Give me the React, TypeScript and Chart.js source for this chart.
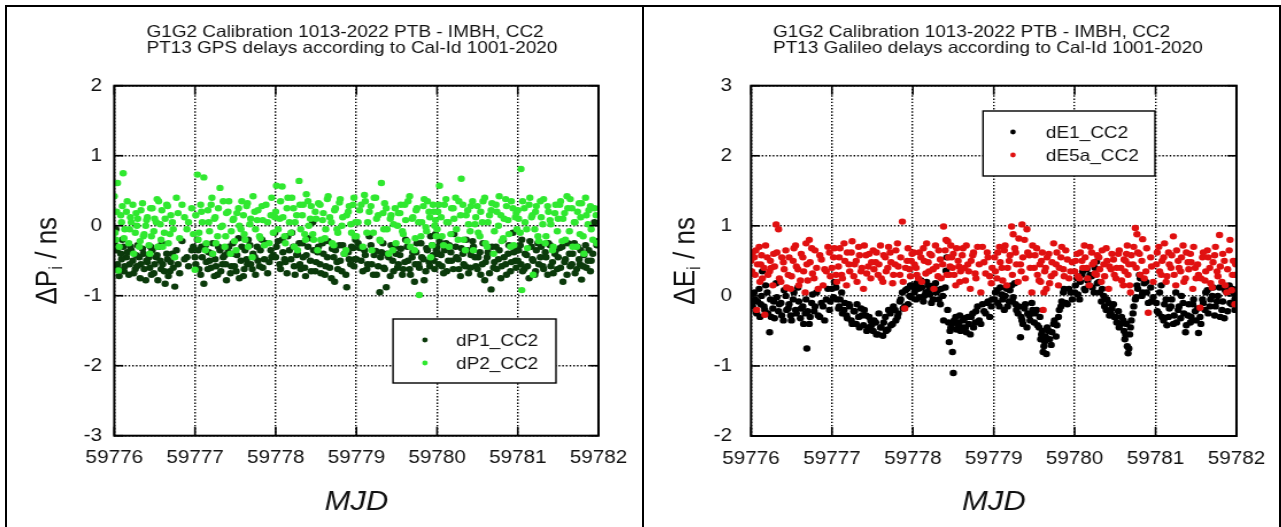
import React, { useEffect, useRef } from 'react';
import { Chart, registerables } from 'chart.js';

Chart.register(...registerables);

// ---------------- data ----------------
const MJD0 = 59776;
const mjdTicks = [59776, 59777, 59778, 59779, 59780, 59781, 59782];
const gpsYTicks = [-3, -2, -1, 0, 1, 2];
const galYTicks = [-2, -1, 0, 1, 2, 3];

const gpsTitle = ['G1G2 Calibration 1013-2022 PTB - IMBH, CC2', 'PT13 GPS delays according to Cal-Id 1001-2020'];
const galTitle = ['G1G2 Calibration 1013-2022 PTB - IMBH, CC2', 'PT13 Galileo delays according to Cal-Id 1001-2020'];
const gpsLabels = ['dP1_CC2', 'dP2_CC2'];
const galLabels = ['dE1_CC2', 'dE5a_CC2'];

// GPS epochs (days after MJD0)
const gpsT = [
  0.00,0.02,0.04,0.05,0.08,0.11,0.13,0.15,0.18,0.21,0.23,0.26,0.29,0.31,0.33,0.36,0.39,
  0.41,0.44,0.47,0.49,0.52,0.55,0.58,0.60,0.63,0.66,0.69,0.72,0.75,0.79,0.84,0.90,0.96,
  1.00,1.03,1.05,1.08,1.11,1.14,1.17,1.20,1.22,1.25,1.28,1.31,1.34,1.37,1.39,1.42,1.45,
  1.48,1.51,1.54,1.57,1.60,1.62,1.65,1.68,1.71,1.74,1.77,1.80,1.83,1.86,1.90,1.94,1.97,
  2.01,2.05,2.08,2.11,2.14,2.17,2.20,2.23,2.26,2.29,2.31,2.34,2.37,2.40,2.43,2.46,2.49,
  2.52,2.55,2.58,2.61,2.64,2.67,2.70,2.73,2.76,2.79,2.82,2.85,2.88,2.91,2.94,2.97,2.99,
  3.02,3.06,3.10,3.13,3.16,3.19,3.22,3.25,3.29,3.31,3.34,3.37,3.40,3.43,3.46,3.49,3.52,
  3.55,3.58,3.61,3.64,3.67,3.70,3.73,3.75,3.78,3.81,3.84,3.87,3.90,3.92,3.95,3.97,3.99,
  4.01,4.03,4.06,4.09,4.12,4.15,4.18,4.21,4.24,4.27,4.30,4.33,4.36,4.39,4.42,4.45,4.48,
  4.51,4.54,4.57,4.60,4.63,4.67,4.70,4.73,4.76,4.79,4.82,4.85,4.88,4.91,4.94,4.97,4.99,
  5.01,5.04,5.05,5.08,5.11,5.14,5.17,5.19,5.22,5.25,5.28,5.31,5.34,5.37,5.40,5.43,5.46,
  5.49,5.52,5.56,5.59,5.62,5.65,5.68,5.71,5.74,5.77,5.79,5.82,5.85,5.88,5.91,5.95,5.98,
  0.01,0.03,0.06,0.09,0.10,0.12,0.16,0.19,0.20,0.24,0.27,0.28,0.32,0.35,0.37,0.40,0.43,
  0.45,0.46,0.50,0.53,0.54,0.57,0.59,0.62,0.65,0.67,0.70,0.73,0.77,0.81,0.87,0.92,0.98,
  1.01,1.04,1.07,1.09,1.13,1.16,1.18,1.21,1.24,1.26,1.29,1.32,1.35,1.38,1.41,1.44,1.47,
  1.49,1.52,1.55,1.58,1.61,1.64,1.66,1.69,1.72,1.75,1.78,1.81,1.84,1.88,1.92,1.95,1.99,
  2.00,2.03,2.06,2.09,2.12,2.15,2.19,2.22,2.24,2.27,2.30,2.33,2.36,2.38,2.41,2.44,2.47,
  2.50,2.53,2.56,2.59,2.62,2.65,2.69,2.72,2.74,2.77,2.80,2.83,2.87,2.90,2.93,2.96,2.98,
  3.00,3.04,3.08,3.11,3.14,3.18,3.21,3.24,3.27,3.30,3.33,3.35,3.38,3.42,3.45,3.48,3.51,
  3.54,3.57,3.60,3.63,3.66,3.69,3.72,3.74,3.77,3.80,3.83,3.86,3.88,3.91,3.94,3.96,3.98,
  4.00,4.02,4.05,4.08,4.11,4.14,4.17,4.20,4.23,4.26,4.29,4.32,4.35,4.38,4.41,4.44,4.47,
  4.50,4.53,4.56,4.59,4.62,4.65,4.68,4.71,4.74,4.77,4.80,4.83,4.86,4.89,4.92,4.95,4.98,
  5.00,5.03,5.06,5.09,5.12,5.15,5.18,5.21,5.23,5.26,5.29,5.32,5.35,5.38,5.41,5.44,5.47,
  5.50,5.53,5.55,5.58,5.61,5.64,5.67,5.70,5.73,5.76,5.78,5.81,5.84,5.87,5.90,5.93,5.97,
];
const dP1 = [
  -0.25,-0.05,-0.55,-0.62,-0.40,-0.30,-0.58,-0.45,-0.70,-0.35,-0.50,-0.62,-0.28,-0.45,-0.55,-0.40,-0.78,
  -0.52,-0.60,-0.35,-0.68,-0.45,-0.30,-0.62,-0.55,-0.83,-0.48,-0.65,-0.40,-0.87,-0.55,-0.22,-0.45,-0.35,
  -0.45,-0.20,-0.62,-0.30,-0.83,-0.52,-0.38,-0.60,-0.25,-0.48,-0.70,-0.35,-0.55,-0.42,-0.78,-0.30,-0.58,
  -0.40,-0.65,-0.18,-0.50,-0.72,-0.35,-0.55,-0.28,-0.62,-0.45,-0.30,-0.58,-0.20,-0.48,-0.68,-0.35,-0.42,
  -0.30,-0.55,-0.20,-0.48,-0.68,-0.35,-0.10,-0.58,-0.42,-0.25,-0.62,-0.45,-0.72,-0.30,-0.50,0.05,-0.65,
  -0.38,-0.55,-0.25,-0.70,-0.45,-0.60,-0.33,-0.80,-0.52,-0.28,-0.65,-0.40,-0.88,-0.48,-0.30,-0.58,-0.20,
  -0.25,-0.50,-0.35,-0.62,-0.15,-0.55,-0.42,-0.70,-0.95,-0.38,-0.60,-0.88,-0.45,-0.28,-0.65,-0.40,-0.55,
  -0.33,-0.62,-0.20,-0.50,-0.70,-0.38,-0.55,-0.25,-0.60,-0.45,-0.78,-0.32,-0.52,-0.15,-0.42,-0.62,-0.35,
  -0.40,-0.22,-0.58,-0.35,-0.65,-0.28,-0.50,-0.12,-0.45,-0.62,-0.32,-0.55,-0.20,-0.68,-0.42,-0.30,-0.58,
  -0.45,-0.70,-0.25,-0.52,-0.38,-0.91,-0.60,-0.30,-0.48,-0.75,-0.20,-0.55,-0.40,-0.65,-0.10,-0.50,-0.35,
  -0.35,-0.55,-0.20,-0.62,-0.42,-0.75,-0.30,-0.50,-0.65,-0.25,-0.45,-0.58,-0.38,-0.70,-0.28,-0.52,-0.40,
  -0.62,-0.32,-0.80,-0.48,-0.25,-0.58,-0.40,-0.68,-0.30,-0.55,-0.77,-0.42,-0.60,-0.35,-0.50,0.05,-0.28,
  -0.60,-0.35,-0.72,-0.48,-0.20,-0.65,-0.38,-0.55,-0.30,-0.68,-0.42,-0.58,-0.75,-0.33,-0.62,-0.50,-0.45,
  -0.30,-0.70,-0.55,-0.42,-0.78,-0.50,-0.25,-0.65,-0.40,-0.72,-0.52,-0.60,-0.35,-0.68,-0.48,-0.58,-0.30,
  -0.55,-0.35,-0.70,-0.45,-0.28,-0.62,-0.50,-0.40,-0.72,-0.58,-0.30,-0.65,-0.45,-0.55,-0.38,-0.68,-0.25,
  -0.58,-0.42,-0.75,-0.30,-0.62,-0.48,-0.20,-0.55,-0.40,-0.70,-0.50,-0.35,-0.60,-0.25,-0.52,-0.45,-0.10,
  -0.45,-0.22,-0.62,-0.38,-0.52,-0.15,-0.48,-0.30,-0.70,-0.40,-0.55,-0.25,-0.60,-0.42,-0.18,-0.65,-0.35,
  -0.52,-0.30,-0.68,-0.40,-0.58,-0.22,-0.75,-0.45,-0.35,-0.62,-0.50,-0.28,-0.70,-0.38,-0.55,-0.32,-0.48,
  -0.48,-0.32,-0.65,-0.42,-0.55,-0.28,-0.70,-0.36,-0.58,-0.45,-0.25,-0.62,-0.40,-0.72,-0.50,-0.30,-0.60,
  -0.42,-0.70,-0.52,-0.30,-0.62,-0.45,-0.80,-0.38,-0.55,-0.25,-0.48,-0.65,-0.35,-0.58,-0.28,-0.50,-0.12,
  -0.30,-0.55,-0.42,-0.68,-0.25,-0.50,-0.38,-0.62,-0.30,-0.48,-0.72,-0.40,-0.58,-0.35,-0.60,-0.22,-0.45,
  -0.62,-0.38,-0.55,-0.78,-0.45,-0.68,-0.30,-0.52,-0.62,-0.35,-0.58,-0.45,-0.70,-0.28,-0.52,-0.38,-0.60,
  -0.50,-0.28,-0.65,-0.40,-0.58,-0.22,-0.48,-0.70,-0.35,-0.55,-0.30,-0.62,-0.45,-0.25,-0.58,-0.68,-0.35,
  -0.45,-0.60,-0.30,-0.52,-0.70,-0.40,-0.55,-0.25,-0.62,-0.48,-0.35,-0.58,-0.28,-0.50,-0.65,-0.40,-0.22,
];
const dP2 = [
  0.42,-0.20,0.61,-0.64,0.15,0.75,-0.05,0.20,-0.25,0.05,0.30,-0.10,0.10,-0.30,0.22,-0.15,0.00,
  0.12,-0.40,0.25,-0.08,0.05,0.35,-0.20,-0.30,0.10,0.28,-0.12,0.05,-0.45,0.18,0.30,-0.05,0.25,
  -0.63,0.73,-0.10,0.20,0.69,-0.25,0.05,0.30,-0.40,0.12,-0.15,0.54,0.00,-0.30,0.18,0.35,-0.08,
  0.10,-0.35,0.25,-0.05,0.15,-0.20,0.32,0.02,-0.45,0.20,0.08,-0.15,0.28,-0.28,0.05,0.15,-0.10,
  0.57,0.10,0.56,-0.15,0.25,0.05,0.40,-0.30,0.15,0.64,-0.05,0.30,-0.20,0.35,0.10,-0.12,0.20,
  -0.35,0.30,0.08,-0.18,0.38,0.12,-0.25,0.22,-0.05,0.33,0.00,-0.40,0.15,0.28,-0.10,0.40,0.05,
  0.05,0.30,0.44,-0.10,0.20,-0.35,0.40,0.10,-0.20,0.61,-0.05,0.25,-0.40,0.15,0.02,-0.25,0.18,
  0.30,-0.12,0.08,0.35,-0.30,0.12,-0.18,0.25,-0.99,0.05,0.38,-0.08,0.20,-0.45,0.30,0.00,-0.15,
  0.20,0.57,-0.15,0.30,0.05,-0.30,0.25,0.10,-0.05,0.35,0.67,-0.20,0.15,0.02,0.28,-0.35,0.12,
  -0.10,0.20,0.35,-0.25,0.05,0.22,-0.40,0.30,0.00,0.15,-0.18,0.38,0.08,-0.30,0.25,0.12,-0.05,
  0.10,0.81,-0.92,0.25,-0.05,0.30,0.12,-0.70,0.20,-0.15,0.35,0.02,-0.25,0.28,0.08,-0.35,0.18,
  -0.08,0.30,0.10,-0.20,0.25,0.38,-0.30,0.05,0.20,-0.12,0.32,-0.40,0.15,0.22,-0.05,0.25,-0.25,
  -0.10,0.20,-0.30,0.05,0.28,-0.18,0.35,-0.05,0.12,-0.40,0.18,0.00,-0.22,0.32,-0.12,0.08,-0.28,
  0.25,-0.15,0.10,0.38,-0.30,0.02,0.22,-0.10,0.30,-0.25,0.15,-0.05,0.40,-0.18,0.12,0.05,-0.12,
  0.15,-0.20,0.30,0.05,-0.35,0.22,-0.08,0.40,0.10,-0.25,0.25,-0.02,0.35,-0.15,0.20,-0.40,0.08,
  -0.22,0.18,0.00,0.35,-0.12,0.28,-0.30,0.10,0.42,-0.05,0.22,-0.18,0.08,0.30,-0.25,0.40,0.12,
  0.20,-0.05,0.35,0.12,-0.25,0.40,-0.10,0.25,0.05,-0.35,0.30,0.15,-0.12,0.45,0.00,0.28,-0.20,
  0.10,0.32,-0.20,0.18,-0.05,0.42,0.05,-0.28,0.25,-0.10,0.38,0.12,-0.35,0.20,0.02,0.30,-0.15,
  -0.15,0.22,-0.30,0.35,0.05,0.28,-0.10,0.40,0.15,-0.22,0.18,0.32,-0.05,0.10,-0.35,0.25,0.00,
  0.18,-0.08,0.30,-0.22,0.42,0.10,-0.35,0.22,0.05,-0.15,0.28,-0.02,0.35,0.12,-0.28,0.20,0.08,
  -0.05,0.30,0.12,-0.28,0.38,0.05,-0.12,0.25,0.40,-0.20,0.15,0.30,-0.35,0.22,-0.08,0.35,0.02,
  0.28,-0.15,0.05,0.40,-0.30,0.15,0.32,-0.08,0.20,0.42,-0.22,0.10,0.28,-0.12,0.35,-0.28,0.18,
  0.22,-0.10,0.35,0.05,-0.32,0.40,0.15,-0.05,0.28,-0.22,0.12,0.38,-0.15,0.20,0.02,-0.30,0.30,
  0.10,0.35,-0.22,0.18,0.42,-0.08,0.25,0.05,-0.30,0.32,0.12,-0.15,0.40,0.02,0.28,-0.20,0.15,
];

// Galileo epochs (days after MJD0)
const galT = [
  0.00,0.02,0.05,0.07,0.10,0.12,0.14,0.17,0.20,0.23,0.25,0.28,0.31,0.34,0.37,0.40,0.43,
  0.46,0.49,0.52,0.55,0.58,0.61,0.64,0.67,0.69,0.72,0.75,0.78,0.81,0.85,0.89,0.93,0.97,
  1.00,1.03,1.06,1.09,1.12,1.15,1.18,1.21,1.24,1.27,1.30,1.33,1.36,1.39,1.42,1.45,1.48,
  1.51,1.54,1.57,1.60,1.63,1.66,1.69,1.72,1.75,1.78,1.81,1.84,1.87,1.90,1.93,1.96,1.99,
  2.02,2.05,2.08,2.11,2.14,2.17,2.20,2.23,2.26,2.29,2.32,2.35,2.38,2.41,2.44,2.45,2.47,
  2.49,2.50,2.53,2.56,2.59,2.62,2.65,2.68,2.71,2.74,2.77,2.80,2.84,2.88,2.92,2.95,2.98,
  3.01,3.04,3.07,3.10,3.13,3.16,3.19,3.22,3.24,3.27,3.30,3.33,3.35,3.38,3.41,3.44,3.47,
  3.50,3.53,3.56,3.59,3.61,3.63,3.65,3.68,3.71,3.74,3.77,3.80,3.83,3.86,3.89,3.93,3.97,
  4.00,4.03,4.06,4.09,4.12,4.15,4.18,4.21,4.24,4.27,4.30,4.33,4.36,4.39,4.42,4.45,4.48,
  4.51,4.54,4.57,4.60,4.63,4.65,4.66,4.69,4.72,4.75,4.77,4.80,4.84,4.88,4.91,4.94,4.97,
  5.01,5.04,5.07,5.10,5.13,5.16,5.19,5.22,5.25,5.28,5.31,5.34,5.37,5.40,5.43,5.46,5.49,
  5.53,5.55,5.58,5.61,5.64,5.67,5.70,5.73,5.76,5.79,5.82,5.85,5.88,5.92,5.95,5.98,5.99,
  0.01,0.04,0.06,0.08,0.11,0.13,0.16,0.18,0.21,0.24,0.27,0.29,0.32,0.35,0.38,0.41,0.44,
  0.47,0.50,0.53,0.56,0.59,0.62,0.65,0.68,0.70,0.73,0.76,0.79,0.83,0.87,0.91,0.95,0.98,
  1.02,1.05,1.08,1.10,1.13,1.16,1.19,1.22,1.25,1.28,1.31,1.34,1.37,1.40,1.43,1.46,1.49,
  1.52,1.55,1.58,1.61,1.64,1.67,1.70,1.73,1.76,1.79,1.82,1.85,1.88,1.91,1.94,1.97,1.98,
  2.01,2.04,2.07,2.10,2.13,2.16,2.19,2.21,2.25,2.28,2.31,2.34,2.37,2.40,2.42,2.43,2.46,
  2.48,2.51,2.54,2.57,2.58,2.61,2.64,2.66,2.69,2.72,2.75,2.78,2.82,2.86,2.90,2.93,2.97,
  3.02,3.05,3.08,3.11,3.14,3.17,3.20,3.23,3.26,3.28,3.31,3.34,3.36,3.39,3.42,3.45,3.48,
  3.51,3.54,3.57,3.58,3.60,3.62,3.64,3.66,3.69,3.72,3.75,3.78,3.81,3.84,3.87,3.91,3.95,
  4.01,4.04,4.07,4.10,4.13,4.16,4.19,4.22,4.25,4.28,4.31,4.34,4.37,4.40,4.43,4.46,4.49,
  4.52,4.55,4.58,4.61,4.62,4.64,4.67,4.68,4.70,4.73,4.76,4.78,4.81,4.83,4.86,4.89,4.95,
  5.02,5.05,5.08,5.11,5.14,5.17,5.20,5.23,5.26,5.29,5.32,5.35,5.38,5.41,5.44,5.47,5.50,
  5.52,5.56,5.59,5.62,5.65,5.68,5.71,5.74,5.77,5.80,5.83,5.86,5.89,5.91,5.94,5.96,5.98,
];
const dE1 = [
  0.02,-0.15,-0.05,-0.25,0.10,-0.12,0.35,-0.20,0.05,-0.52,-0.30,-0.08,0.18,-0.22,-0.10,-0.35,0.00,
  -0.18,-0.28,-0.05,-0.20,0.12,-0.32,-0.15,-0.25,-0.75,-0.40,-0.10,-0.22,0.05,-0.30,-0.15,-0.05,-0.20,
  0.10,0.20,-0.05,-0.15,0.05,-0.20,-0.28,-0.12,-0.35,-0.22,-0.40,-0.30,-0.18,-0.42,-0.28,-0.45,-0.35,
  -0.50,-0.38,-0.55,-0.45,-0.57,-0.30,-0.48,-0.25,-0.40,-0.20,-0.30,-0.08,0.05,-0.15,0.10,0.00,0.15,
  0.05,0.18,-0.02,0.12,0.00,0.20,0.08,-0.10,0.15,0.05,-0.05,0.10,-0.35,0.36,-0.38,-0.66,-0.45,
  -0.80,-1.10,-0.30,-0.42,-0.50,-0.35,-0.45,-0.30,-0.55,-0.25,-0.38,-0.15,-0.40,-0.22,-0.10,-0.30,-0.05,
  -0.05,0.08,-0.15,0.02,-0.20,0.10,-0.08,0.15,-0.02,-0.12,-0.25,-0.59,-0.35,-0.18,-0.45,-0.28,-0.10,
  -0.38,-0.20,-0.45,-0.55,-0.80,-0.65,-0.83,-0.50,-0.70,-0.40,-0.58,-0.30,-0.15,0.05,-0.10,0.10,-0.05,
  0.05,0.25,-0.05,0.30,0.10,0.38,0.15,0.28,0.05,0.49,0.20,-0.08,0.00,-0.20,-0.10,-0.25,-0.12,
  -0.30,-0.22,-0.40,-0.35,-0.55,-0.72,-0.82,-0.45,-0.25,-0.05,0.15,0.30,0.05,0.20,-0.10,0.12,-0.02,
  -0.10,-0.25,0.15,-0.35,-0.05,-0.30,-0.15,-0.40,0.05,-0.20,-0.32,-0.10,-0.52,-0.28,-0.38,-0.12,-0.22,
  -0.53,-0.30,-0.05,-0.20,0.08,-0.15,0.00,-0.28,-0.08,0.12,-0.20,-0.32,0.05,-0.10,0.10,-0.05,0.02,
  -0.10,0.05,-0.22,-0.08,-0.30,0.00,-0.15,0.15,-0.25,-0.05,-0.18,-0.32,-0.02,-0.12,-0.28,0.08,-0.20,
  -0.12,-0.35,0.05,-0.25,-0.08,-0.18,-0.40,-0.05,-0.22,-0.30,0.02,-0.15,-0.28,-0.10,-0.35,0.10,-0.08,
  -0.02,0.12,-0.18,-0.05,-0.25,-0.10,-0.32,-0.15,-0.40,-0.22,-0.12,-0.45,-0.28,-0.20,-0.50,-0.30,-0.42,
  -0.35,-0.55,-0.25,-0.45,-0.38,-0.50,-0.20,-0.42,-0.15,-0.35,-0.25,-0.05,-0.18,0.08,-0.12,0.15,-0.02,
  0.12,-0.05,0.10,0.22,-0.08,0.05,0.15,0.02,-0.05,0.18,0.08,-0.12,0.00,0.12,0.55,-0.20,-0.50,
  -0.40,-0.35,-0.48,-0.38,-0.28,-0.45,-0.32,-0.52,-0.40,-0.30,-0.45,-0.22,-0.35,-0.12,-0.25,-0.08,-0.15,
  0.05,-0.10,0.12,-0.05,0.00,-0.15,0.08,-0.08,0.18,-0.20,-0.15,-0.30,-0.40,-0.12,-0.25,-0.35,-0.20,
  -0.25,-0.42,-0.30,-0.62,-0.50,-0.72,-0.58,-0.45,-0.62,-0.52,-0.35,-0.42,-0.20,-0.08,0.10,-0.12,0.05,
  0.15,0.02,0.20,0.35,0.08,0.22,0.30,0.12,0.40,0.18,0.05,0.10,-0.15,-0.05,-0.28,-0.18,-0.30,
  -0.38,-0.45,-0.30,-0.50,-0.62,-0.40,-0.75,-0.55,-0.35,-0.15,-0.02,0.10,0.25,0.00,0.18,0.05,-0.08,
  -0.22,0.05,-0.30,-0.12,-0.42,-0.18,-0.05,-0.28,-0.38,-0.15,0.00,-0.25,-0.42,-0.12,-0.30,-0.05,-0.35,
  -0.18,-0.40,-0.10,0.05,-0.25,-0.05,0.12,-0.15,0.00,-0.30,-0.08,0.08,-0.22,0.15,-0.12,0.05,-0.20,
];
const dE5a = [
  0.50,0.62,0.30,-0.20,0.70,0.45,0.25,-0.27,0.55,0.35,0.40,0.60,1.02,0.95,0.20,0.48,0.65,
  0.30,0.10,0.50,0.72,0.38,0.22,0.55,0.05,0.45,0.80,0.68,0.25,0.40,0.58,0.15,0.35,0.62,
  0.40,0.68,0.20,0.55,0.30,0.75,0.15,0.45,0.62,0.28,0.50,0.70,0.35,0.10,0.58,0.42,0.25,
  0.65,0.48,0.30,0.72,0.20,0.55,0.40,0.62,0.18,0.45,0.75,0.30,1.06,-0.18,0.50,0.38,0.60,
  0.45,0.30,0.62,0.20,0.50,0.75,0.35,0.58,0.10,0.42,0.65,0.25,0.99,0.80,0.55,0.30,0.72,
  0.40,0.60,0.15,0.50,0.35,0.68,0.22,0.45,0.10,0.58,0.32,0.70,0.05,0.48,0.62,0.28,0.40,
  0.55,0.25,0.70,0.40,0.65,0.15,0.50,0.99,0.88,0.62,0.20,0.45,1.02,0.80,0.95,0.58,0.05,
  0.40,0.68,0.22,0.50,-0.20,0.35,0.10,0.60,0.28,0.75,0.45,0.15,0.55,0.38,0.65,0.25,0.48,
  0.35,0.60,0.25,0.50,0.72,0.40,0.15,0.62,0.48,0.30,0.55,0.20,0.45,0.68,0.10,0.38,0.52,
  0.25,0.60,0.40,0.15,0.50,0.72,0.30,0.05,0.45,0.97,0.88,0.60,0.81,0.35,-0.24,0.55,0.20,
  0.45,0.70,0.30,0.55,0.20,0.62,0.40,0.85,0.15,0.50,0.35,0.72,0.25,0.48,0.60,0.10,0.40,
  0.30,-0.17,0.55,0.22,0.65,0.40,0.12,0.58,0.35,0.87,0.20,0.50,0.05,0.80,0.30,-0.12,0.45,
  0.35,0.55,0.65,0.45,0.20,0.58,0.40,0.72,0.30,0.50,0.15,0.42,0.62,0.25,0.55,0.38,0.12,
  0.55,0.28,0.68,0.42,0.15,0.60,0.35,0.75,0.22,0.48,0.32,0.65,0.10,0.52,0.38,0.70,0.28,
  0.55,0.30,0.42,0.68,0.25,0.50,0.62,0.35,0.78,0.45,0.20,0.58,0.40,0.72,0.32,0.60,0.48,
  0.38,0.62,0.45,0.25,0.58,0.35,0.70,0.48,0.30,0.65,0.42,0.55,0.20,0.40,0.68,0.28,0.50,
  0.62,0.40,0.25,0.55,0.68,0.32,0.48,0.60,0.38,0.72,0.28,0.52,0.45,0.65,0.30,0.78,0.42,
  0.55,0.30,0.68,0.42,0.20,0.58,0.40,0.72,0.35,0.50,0.62,0.25,0.45,0.70,0.32,0.55,0.18,
  0.35,0.62,0.48,0.22,0.72,0.40,0.58,0.30,0.68,0.45,0.82,0.35,0.55,0.25,0.62,0.40,0.72,
  0.58,0.30,0.45,0.20,0.62,0.05,0.40,0.55,0.18,0.48,0.32,0.62,0.40,0.70,0.28,0.52,0.35,
  0.50,0.28,0.62,0.40,0.55,0.25,0.70,0.45,0.32,0.58,0.38,0.65,0.28,0.50,0.42,0.60,0.30,
  0.40,0.65,0.22,0.52,0.35,0.60,0.45,0.15,0.58,0.70,0.40,0.62,0.30,0.50,0.25,0.68,0.42,
  0.62,0.35,0.50,0.75,0.28,0.45,0.58,0.30,0.65,0.40,0.55,0.20,0.62,0.38,0.48,0.70,0.25,
  0.45,0.25,0.62,0.35,0.55,0.18,0.48,0.70,0.28,0.42,0.60,0.15,0.38,0.65,0.08,0.50,0.30,
];

// ---------------- layout / style ----------------
const FONT = "'Liberation Sans', Arial, Helvetica, sans-serif";
const CW = 552; // internal canvas width
const CH = 519; // canvas height
const DW = 634; // displayed width (horizontal stretch like the reference)
const S = DW / CW;
const YW = 70;
const XH = 60;

type Series = { label: string; color: string; t: number[]; y: number[]; order: number };
type PanelCfg = {
  left: number;
  title: string[];
  titleX: number;
  yMain: string;
  ySub: string;
  yMin: number;
  yMax: number;
  yTicks: number[];
  yTickPad: number;
  area: { l: number; r: number; t: number; b: number };
  series: Series[];
  legend: { x0: number; y0: number; x1: number; y1: number; dotX: number; textX: number; rows: number[] };
};

const gpsCfg: PanelCfg = {
  left: 7,
  title: gpsTitle,
  titleX: 121.5,
  yMain: 'ΔP',
  ySub: 'i',
  yMin: -3,
  yMax: 2,
  yTicks: gpsYTicks,
  yTickPad: 10.7,
  area: { l: 93.4, r: 515.3, t: 77.7, b: 427.7 },
  series: [
    { label: gpsLabels[0], color: '#0b3a0b', t: gpsT, y: dP1, order: 1 },
    { label: gpsLabels[1], color: '#30e830', t: gpsT, y: dP2, order: 0 },
  ],
  legend: { x0: 336.1, y0: 311, x1: 478, y1: 375, dotX: 363.9, textX: 391, rows: [332, 355] },
};

const galCfg: PanelCfg = {
  left: 645,
  title: galTitle,
  titleX: 111.4,
  yMain: 'ΔE',
  ySub: 'i',
  yMin: -2,
  yMax: 3,
  yTicks: galYTicks,
  yTickPad: 16.6,
  area: { l: 92.3, r: 515.7, t: 77.7, b: 428 },
  series: [
    { label: galLabels[0], color: '#000000', t: galT, y: dE1, order: 1 },
    { label: galLabels[1], color: '#e01010', t: galT, y: dE5a, order: 0 },
  ],
  legend: { x0: 294.3, y0: 103, x1: 444, y1: 168, dotX: 320.4, textX: 349.1, rows: [124, 147] },
};

function makeDecor(cfg: PanelCfg) {
  return {
    id: 'decor',
    afterDraw(chart: any) {
      const ctx: CanvasRenderingContext2D = chart.ctx;
      const a = chart.chartArea;
      const xs = chart.scales.x;
      const ys = chart.scales.y;
      ctx.save();
      ctx.setLineDash([]);
      ctx.strokeStyle = '#000';
      const line = (x1: number, y1: number, x2: number, y2: number) => {
        ctx.beginPath();
        ctx.moveTo(x1, y1);
        ctx.lineTo(x2, y2);
        ctx.stroke();
      };
      // inward tick marks
      ctx.lineWidth = 1.6;
      for (const v of mjdTicks) {
        const px = xs.getPixelForValue(v);
        line(px, a.bottom, px, a.bottom - 9);
        line(px, a.top, px, a.top + 9);
      }
      for (const v of cfg.yTicks) {
        const py = ys.getPixelForValue(v);
        line(a.left, py, a.left + 9 / S, py);
        line(a.right, py, a.right - 9 / S, py);
      }
      // frame
      ctx.lineWidth = 2;
      ctx.strokeRect(a.left, a.top, a.right - a.left, a.bottom - a.top);

      // legend
      const L = cfg.legend;
      ctx.fillStyle = '#fff';
      ctx.fillRect(L.x0, L.y0, L.x1 - L.x0, L.y1 - L.y0);
      ctx.lineWidth = 1.4;
      ctx.strokeRect(L.x0, L.y0, L.x1 - L.x0, L.y1 - L.y0);
      ctx.font = `16.5px ${FONT}`;
      ctx.textBaseline = 'middle';
      ctx.textAlign = 'left';
      cfg.series.forEach((s, i) => {
        ctx.fillStyle = s.color;
        ctx.beginPath();
        ctx.arc(L.dotX, L.rows[i], 2.4, 0, Math.PI * 2);
        ctx.fill();
        ctx.fillStyle = '#111';
        ctx.fillText(s.label, L.textX, L.rows[i] + 1);
      });

      // titles
      ctx.fillStyle = '#111';
      ctx.textBaseline = 'alphabetic';
      ctx.font = `16.5px ${FONT}`;
      ctx.fillText(cfg.title[0], cfg.titleX, 28.5);
      ctx.fillText(cfg.title[1], cfg.titleX, 45);

      // x axis title
      ctx.font = `italic 27px ${FONT}`;
      ctx.textAlign = 'center';
      ctx.fillText('MJD', (a.left + a.right) / 2, 502);

      // y axis title with subscript
      ctx.save();
      ctx.translate(34, (a.top + a.bottom) / 2);
      ctx.rotate(-Math.PI / 2);
      ctx.textAlign = 'left';
      const main = 26;
      const sub = 17;
      ctx.font = `${main}px ${FONT}`;
      const w1 = ctx.measureText(cfg.yMain).width;
      const w3 = ctx.measureText(' / ns').width;
      ctx.font = `${sub}px ${FONT}`;
      const w2 = ctx.measureText(cfg.ySub).width;
      const x0 = -(w1 + w2 + w3) / 2;
      const base = main * 0.358;
      ctx.font = `${main}px ${FONT}`;
      ctx.fillText(cfg.yMain, x0, base);
      ctx.font = `${sub}px ${FONT}`;
      ctx.fillText(cfg.ySub, x0 + w1, base + 5);
      ctx.font = `${main}px ${FONT}`;
      ctx.fillText(' / ns', x0 + w1 + w2, base);
      ctx.restore();

      ctx.restore();
    },
  };
}

function Panel({ cfg }: { cfg: PanelCfg }) {
  const ref = useRef<HTMLCanvasElement>(null);
  useEffect(() => {
    const canvas = ref.current;
    if (!canvas) return;
    const a = cfg.area;
    const chart = new Chart(canvas, {
      type: 'scatter',
      data: {
        datasets: cfg.series.map((s) => ({
          label: s.label,
          data: s.t.map((t, i) => ({ x: MJD0 + t, y: s.y[i] })),
          backgroundColor: s.color,
          borderColor: s.color,
          borderWidth: 0,
          pointRadius: 3.2,
          pointHoverRadius: 3.2,
          order: s.order,
        })),
      },
      options: {
        responsive: false,
        maintainAspectRatio: false,
        animation: false,
        events: [],
        layout: {
          padding: { left: a.l - YW, right: CW - a.r, top: a.t, bottom: CH - a.b - XH },
        },
        plugins: {
          legend: { display: false },
          title: { display: false },
          tooltip: { enabled: false },
        },
        scales: {
          x: {
            type: 'linear',
            min: mjdTicks[0],
            max: mjdTicks[mjdTicks.length - 1],
            afterFit: (s: any) => {
              s.height = XH;
            },
            afterBuildTicks: (s: any) => {
              s.ticks = mjdTicks.map((v) => ({ value: v }));
            },
            grid: { color: '#000', lineWidth: 1.4, drawTicks: false },
            border: { display: false, dash: [1.4, 1.8] },
            ticks: {
              padding: 12,
              maxRotation: 0,
              autoSkip: false,
              color: '#111',
              font: { family: FONT, size: 18 },
              callback: (v: any) => String(v),
            },
          },
          y: {
            type: 'linear',
            min: cfg.yMin,
            max: cfg.yMax,
            afterFit: (s: any) => {
              s.width = YW;
            },
            afterBuildTicks: (s: any) => {
              s.ticks = cfg.yTicks.map((v) => ({ value: v }));
            },
            grid: { color: '#000', lineWidth: 1.4, drawTicks: false },
            border: { display: false, dash: [1.4, 1.8] },
            ticks: {
              padding: cfg.yTickPad,
              autoSkip: false,
              color: '#111',
              font: { family: FONT, size: 18 },
              callback: (v: any) => String(v),
            },
          },
        },
      },
      plugins: [makeDecor(cfg)],
    } as any);
    return () => chart.destroy();
  }, [cfg]);
  return (
    <canvas
      ref={ref}
      width={CW}
      height={CH}
      style={{ position: 'absolute', left: cfg.left, top: 8, width: DW + 'px', height: CH + 'px' }}
    />
  );
}

export default function App() {
  const line = (style: React.CSSProperties) => (
    <div style={{ position: 'absolute', background: '#000', ...style }} />
  );
  return (
    <div
      style={{
        position: 'fixed',
        left: 0,
        top: 0,
        width: 1281,
        height: 527,
        background: '#fff',
        overflow: 'hidden',
      }}
    >
      <Panel cfg={gpsCfg} />
      <Panel cfg={galCfg} />
      {line({ left: 5, top: 5, width: 1276, height: 2 })}
      {line({ left: 5, top: 5, width: 2, height: 522 })}
      {line({ left: 642, top: 5, width: 2, height: 522 })}
      {line({ left: 1279, top: 5, width: 2, height: 522 })}
    </div>
  );
}
